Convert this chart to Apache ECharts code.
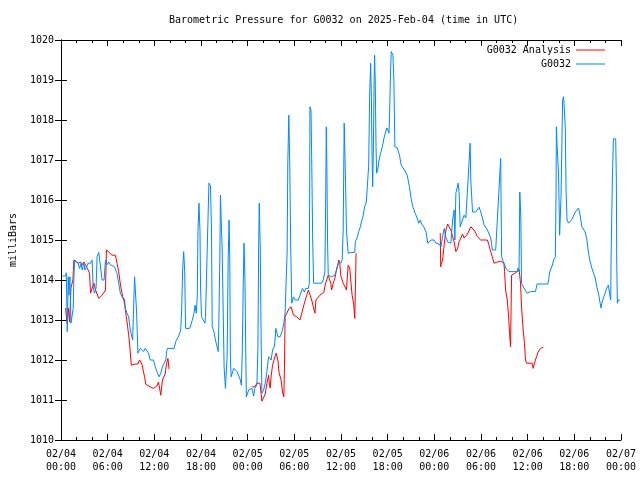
<!DOCTYPE html>
<html><head><meta charset="utf-8">
<script src="https://cdn.jsdelivr.net/npm/echarts/dist/echarts.min.js"></script>
<style>html,body{margin:0;padding:0;background:#fff}#c{width:640px;height:480px}</style>
</head><body><div id="c"></div>
<script>
// ---- data (time in hours since 2025-02-04 00:00 UTC, pressure in mbar) ----
const dayLabels = ['02/04', '02/05', '02/06', '02/07'];
const seriesNames = ['G0032 Analysis', 'G0032'];

// Observed G0032, day 1
const obsDay1T = [
 0.17,0.60,0.68,0.81,0.93,1.02,1.15,1.28,1.45,1.57,
 1.66,1.75,1.96,2.21,2.39,2.60,2.72,2.94,3.07,3.24,
 3.36,3.49,3.80,4.00,4.13,4.31,4.51,4.64,4.86,5.05,
 5.28,5.54,5.72,5.92,6.14,6.36,6.56,6.87,7.20,7.42,
 7.63,7.84,8.06,8.27,8.48,8.70,8.91,9.21,9.46,9.63,
 9.72,9.89,10.04,10.19,10.40,10.61,10.83,11.04,11.25,11.47,
 11.89,12.11,12.41,12.62,12.83,13.04,13.26,13.47,13.59,13.68,
 14.54,14.75,14.96,15.18,15.39,15.51,15.64,15.77,15.90,16.02,
 16.54,16.66,16.88,17.10,17.23,17.39,17.52,17.61,17.74,17.87,
 17.94,18.07,18.29,18.51,18.58,18.71,19.02,19.22,19.35,19.44,
 19.66,19.86,20.08,20.21,20.30,20.42,20.50,20.63,20.72,20.85,
 20.97,21.14,21.36,21.49,21.61,21.70,21.78,21.87,22.00,22.21,
 22.42,22.64,22.85,23.06,23.19,23.31,23.44,23.53,23.66,23.75,23.83];
const obsDay1P = [
 1014.1,1014.1,1014.18,1012.71,1014.08,1013.62,1014.08,1012.92,1012.95,1013.29,
 1014.08,1014.5,1014.5,1014.42,1014.29,1014.42,1014.25,1014.42,1014.25,1014.25,
 1014.35,1014.42,1014.42,1014.5,1013.83,1013.67,1013.8,1014.58,1014.69,1014.65,
 1014.0,1014.0,1014.5,1014.38,1014.45,1014.38,1014.33,1014.33,1014.17,1013.92,
 1013.67,1013.58,1013.5,1013.29,1013.17,1013.08,1012.75,1012.5,1014.08,1014.08,
 1013.2,1012.17,1012.17,1012.29,1012.29,1012.21,1012.29,1012.29,1012.17,1012.0,
 1012.0,1011.83,1011.67,1011.58,1011.67,1011.83,1011.88,1012.0,1012.21,1012.29,
 1012.29,1012.46,1012.5,1012.62,1012.75,1013.25,1014.25,1014.71,1014.25,1012.79,
 1012.79,1012.85,1013.0,1013.17,1013.37,1013.17,1013.58,1015.21,1015.92,1015.21,
 1013.83,1013.08,1013.0,1012.92,1013.08,1014.08,1016.42,1016.35,1015.25,1012.83,
 1012.71,1012.5,1012.46,1012.21,1013.0,1014.5,1016.12,1016.08,1014.75,1013.25,
 1011.83,1011.29,1012.08,1014.5,1015.5,1014.5,1012.08,1011.58,1011.63,1011.79,
 1011.75,1011.71,1011.67,1011.5,1011.37,1012.25,1014.0,1014.92,1013.92,1012.25,1011.08];

// Observed G0032, day 2
const obsDay2T = [
 24.13,24.55,24.77,24.90,25.19,25.32,25.41,25.49,25.62,25.74,
 25.83,26.05,26.26,26.47,26.69,26.89,27.02,27.20,27.46,27.62,
 27.88,28.17,28.33,28.48,28.65,28.81,28.94,29.07,29.16,29.29,
 29.41,29.54,29.67,29.89,30.09,30.53,30.73,31.04,31.29,31.46,
 31.81,31.93,32.01,32.14,32.23,32.36,32.48,32.65,33.08,33.51,
 33.72,33.93,34.02,34.11,34.18,34.27,34.36,34.79,35.21,35.42,
 35.72,35.98,36.15,36.28,36.41,36.58,36.70,36.92,37.34,37.77,
 37.85,38.11,38.28,38.49,38.62,38.84,39.04,39.26,39.48,39.56,
 39.68,39.81,39.90,39.99,40.07,40.16,40.25,40.32,40.41,40.50,
 40.58,40.76,40.89,41.09,41.31,41.53,41.69,41.91,42.08,42.17,
 42.24,42.37,42.46,42.68,42.80,42.93,43.23,43.52,43.74,44.16,
 44.51,44.80,45.02,45.23,45.53,45.79,46.00,46.21,46.38,46.64,
 46.94,47.15,47.57,47.96];
const obsDay2P = [
 1011.25,1011.29,1011.1,1011.29,1011.38,1012.33,1014.75,1015.92,1014.75,1012.4,
 1011.17,1011.25,1011.42,1011.71,1012.08,1012.08,1012.0,1012.25,1012.35,1012.79,
 1012.58,1012.58,1012.58,1012.75,1012.92,1013.17,1013.2,1014.67,1016.92,1018.12,
 1016.92,1014.75,1013.42,1013.58,1013.5,1013.5,1013.62,1013.79,1013.7,1013.79,
 1013.79,1013.92,1018.33,1018.25,1017.08,1015.0,1013.92,1013.9,1013.92,1013.92,
 1014.0,1014.21,1015.83,1017.83,1016.87,1015.0,1014.12,1014.08,1014.12,1014.25,
 1014.46,1014.42,1014.5,1015.25,1017.92,1016.5,1015.25,1014.67,1014.69,1014.69,
 1014.96,1015.08,1015.21,1015.33,1015.45,1015.6,1015.83,1015.95,1016.0,1016.87,
 1018.58,1019.42,1018.65,1017.12,1016.33,1017.2,1018.87,1019.62,1018.87,1017.37,
 1016.67,1016.8,1017.0,1017.17,1017.33,1017.55,1017.67,1017.8,1017.75,1017.67,
 1018.12,1019.2,1019.71,1019.62,1018.96,1017.33,1017.3,1017.12,1016.87,1016.75,
 1016.62,1016.33,1016.04,1015.83,1015.67,1015.55,1015.42,1015.5,1015.4,1015.33,
 1015.2,1014.92,1015.0,1015.0];

// Observed G0032, day 3
const obsDay3T = [
 48.21,48.60,48.85,49.07,49.28,49.43,49.71,49.84,50.13,50.35,
 50.55,50.64,50.77,51.07,51.19,51.32,51.50,51.83,52.05,52.27,
 52.47,52.60,52.69,52.91,53.33,53.55,53.75,53.97,54.19,54.39,
 54.83,55.03,55.25,55.47,55.89,56.10,56.31,56.53,56.65,56.87,
 57.17,57.59,58.70,58.74,58.89,58.99,59.12,59.21,59.51,59.94,
 60.15,60.36,61.00,61.22,62.58,62.70,62.83,63.14,63.34,63.56,
 63.65,63.69,63.78,63.98,64.11,64.29,64.42,64.49,64.62,64.75,
 64.84,64.93,65.06,65.26,65.70,66.12,66.34,66.54,66.76,66.97,
 67.40,67.62,67.82,68.04,68.25,68.46,68.68,68.89,69.10,69.32,
 69.44,69.53,69.74,69.95,70.17,70.38,70.50,70.59,70.68,70.72,
 70.89,71.02,71.32,71.40,71.45,71.53,71.66,71.87];
const obsDay3P = [
 1014.92,1014.9,1014.83,1015.1,1015.29,1015.1,1014.95,1014.92,1014.92,1015.5,
 1015.75,1015.0,1016.17,1016.42,1016.17,1015.33,1015.33,1015.62,1015.55,1015.55,
 1016.96,1017.42,1016.5,1015.7,1015.7,1015.75,1015.82,1015.7,1015.55,1015.38,
 1015.25,1015.3,1015.05,1014.75,1014.75,1014.7,1016.25,1017.04,1014.58,1014.46,
 1014.3,1014.21,1014.21,1014.3,1014.21,1016.2,1015.55,1013.92,1013.8,1013.67,
 1013.7,1013.71,1013.71,1013.9,1013.9,1014.0,1014.2,1014.35,1014.5,1014.58,
 1016.2,1017.83,1017.38,1016.6,1015.12,1016.08,1017.62,1018.5,1018.58,1018.62,
 1017.83,1016.3,1015.5,1015.42,1015.52,1015.7,1015.75,1015.8,1015.6,1015.33,
 1015.2,1015.0,1014.67,1014.45,1014.3,1014.3,1014.05,1013.83,1013.67,1013.42,
 1013.3,1013.42,1013.55,1013.67,1013.8,1013.87,1013.9,1013.58,1013.5,1014.5,
 1016.5,1017.53,1017.53,1016.5,1014.5,1013.42,1013.5,1013.5];

// G0032 Analysis, three separate runs
const anaSeg1T = [
 0.60,0.68,0.81,0.96,1.11,1.28,1.53,1.66,1.88,2.21,
 2.52,2.72,2.94,3.16,3.49,3.67,3.80,4.00,4.22,4.44,
 4.86,5.28,5.72,5.84,6.14,6.56,6.99,7.20,7.42,7.63,
 7.93,8.18,8.27,8.40,8.57,8.70,8.82,9.04,9.55,9.89,
 10.10,10.40,10.74,10.91,11.47,11.89,12.32,12.53,12.62,12.83,
 12.96,13.04,13.39,13.56,13.75,13.90];
const anaSeg1P = [
 1013.3,1013.1,1012.9,1013.3,1012.95,1013.8,1014.0,1014.5,1014.5,1014.42,
 1014.45,1014.38,1014.45,1014.42,1014.25,1014.17,1013.67,1013.7,1013.92,1013.75,
 1013.54,1013.62,1013.75,1014.75,1014.7,1014.62,1014.62,1014.42,1014.21,1013.9,
 1013.58,1013.5,1013.25,1013.08,1012.83,1012.62,1012.4,1011.87,1011.9,1011.9,
 1012.0,1011.9,1011.58,1011.39,1011.33,1011.29,1011.35,1011.45,1011.5,1011.12,
 1011.15,1011.5,1011.65,1011.9,1012.04,1011.77];
const anaSeg2T = [
 24.55,24.94,25.19,25.58,25.70,25.83,26.05,26.26,26.47,26.69,
 26.79,26.89,27.02,27.20,27.46,27.66,27.88,28.05,28.30,28.48,
 28.65,28.74,28.81,29.03,29.32,29.58,29.89,30.31,30.73,30.95,
 31.29,31.59,31.81,31.97,32.23,32.44,32.65,32.78,33.00,33.29,
 33.51,33.80,34.02,34.36,34.57,34.69,34.79,35.00,35.21,35.42,
 35.64,35.72,35.84,35.98,36.28,36.70,36.92,37.12,37.25,37.43,
 37.63,37.77,37.85,37.94];
const anaSeg2P = [
 1011.33,1011.33,1011.42,1011.42,1011.2,1010.97,1010.95,1011.15,1011.42,1011.62,
 1011.4,1011.3,1011.6,1011.87,1012.05,1012.17,1012.0,1011.67,1011.5,1011.2,
 1011.08,1011.9,1013.08,1013.12,1013.29,1013.33,1013.12,1013.08,1013.0,1013.17,
 1013.42,1013.62,1013.75,1013.7,1013.5,1013.33,1013.17,1013.5,1013.5,1013.62,
 1013.67,1013.7,1013.92,1014.12,1014.15,1013.92,1013.75,1013.92,1014.04,1014.25,
 1014.42,1014.5,1014.42,1014.1,1013.92,1013.75,1014.37,1014.3,1014.0,1013.62,
 1013.4,1013.04,1013.0,1014.67];
const anaSeg3T = [
 48.76,48.82,48.91,49.07,49.27,49.49,49.71,49.91,50.13,50.35,
 50.55,50.77,50.98,51.19,51.41,51.62,51.83,52.05,52.26,52.69,
 52.90,53.10,53.32,53.54,53.75,53.96,54.82,55.02,55.24,55.46,
 55.67,56.10,56.52,56.95,57.03,57.16,57.38,57.58,57.67,57.80,
 57.89,57.93,58.22,58.65,58.91,59.08,59.21,59.42,59.59,59.72,
 59.85,60.58,60.70,60.87,61.13,61.34,61.64,62.02];
const anaSeg3P = [
 1015.17,1014.33,1014.42,1014.5,1014.9,1015.25,1015.4,1015.38,1015.25,1015.08,
 1014.95,1014.71,1014.78,1014.96,1015.05,1015.15,1015.05,1015.05,1015.15,1015.33,
 1015.28,1015.25,1015.17,1015.08,1015.04,1015.0,1015.0,1014.88,1014.71,1014.58,
 1014.42,1014.45,1014.47,1014.42,1014.21,1013.75,1013.5,1013.0,1012.67,1012.33,
 1012.3,1014.12,1014.15,1014.21,1014.25,1013.92,1013.33,1012.75,1012.42,1012.0,
 1011.92,1011.92,1011.79,1011.92,1012.08,1012.2,1012.29,1012.32];

// ---- build series data ----
function pairs(T, P) { return T.map((t, i) => [t, P[i]]); }
const obsData = [].concat(pairs(obsDay1T, obsDay1P), pairs(obsDay2T, obsDay2P), pairs(obsDay3T, obsDay3P));
const anaData = [].concat(
  pairs(anaSeg1T, anaSeg1P), [[19, '-']],
  pairs(anaSeg2T, anaSeg2P), [[43, '-']],
  pairs(anaSeg3T, anaSeg3P));

const FONT = "'DejaVu Sans Mono', monospace";
const txt = { fontFamily: FONT, fontSize: 10, color: '#000' };

function xLabel(v) {
  const d = Math.floor(v / 24);
  const hh = v - d * 24;
  return dayLabels[d] + '\n' + String(hh).padStart(2, '0') + ':00';
}

const axisBase = {
  axisLine: { show: true, lineStyle: { color: '#000', width: 1 } },
  axisTick: { show: true, inside: true, length: 6, lineStyle: { color: '#000' } },
  splitLine: { show: false }
};

const chart = echarts.init(document.getElementById('c'), null, { renderer: 'canvas' });
chart.setOption({
  animation: false,
  backgroundColor: '#fff',
  title: {
    text: 'Barometric Pressure for G0032 on 2025-Feb-04 (time in UTC)',
    left: 164, top: 10,
    textStyle: Object.assign({ fontWeight: 'normal' }, txt)
  },
  legend: [
    { data: [seriesNames[0]], right: 30, top: 40, align: 'right', orient: 'vertical',
      icon: 'rect', itemWidth: 29, itemHeight: 1, selectedMode: false, textStyle: txt },
    { data: [seriesNames[1]], right: 30, top: 54, align: 'right', orient: 'vertical',
      icon: 'rect', itemWidth: 29, itemHeight: 1, selectedMode: false, textStyle: txt }
  ],
  grid: { left: 58, right: 19, top: 40, bottom: 40, containLabel: false },
  xAxis: [
    Object.assign({}, axisBase, {
      type: 'value', min: 0, max: 72, interval: 6, position: 'bottom',
      minorTick: { show: true, splitNumber: 3, length: 3, lineStyle: { color: '#000' } },
      axisLabel: Object.assign({ formatter: xLabel, margin: 8, lineHeight: 13 }, txt)
    }),
    Object.assign({}, axisBase, {
      type: 'value', min: 0, max: 72, interval: 6, position: 'top',
      minorTick: { show: true, splitNumber: 3, length: 3, lineStyle: { color: '#000' } },
      axisLabel: { show: false }
    })
  ],
  yAxis: [
    Object.assign({}, axisBase, {
      type: 'value', min: 1010, max: 1020, interval: 1, position: 'left',
      name: 'milliBars', nameLocation: 'middle', nameGap: 43, nameTextStyle: txt,
      axisLabel: Object.assign({ margin: 7, formatter: v => String(v) }, txt)
    }),
    Object.assign({}, axisBase, {
      type: 'value', min: 1010, max: 1020, interval: 1, position: 'right',
      axisLabel: { show: false }
    })
  ],
  series: [
    { name: seriesNames[0], type: 'line', data: anaData, showSymbol: false, symbol: 'none',
      connectNulls: false, color: '#ff0000', lineStyle: { color: '#ff0000', width: 1 } },
    { name: seriesNames[1], type: 'line', data: obsData, showSymbol: false, symbol: 'none',
      color: '#0088ff', lineStyle: { color: '#0088ff', width: 1 } }
  ]
});
</script></body></html>
